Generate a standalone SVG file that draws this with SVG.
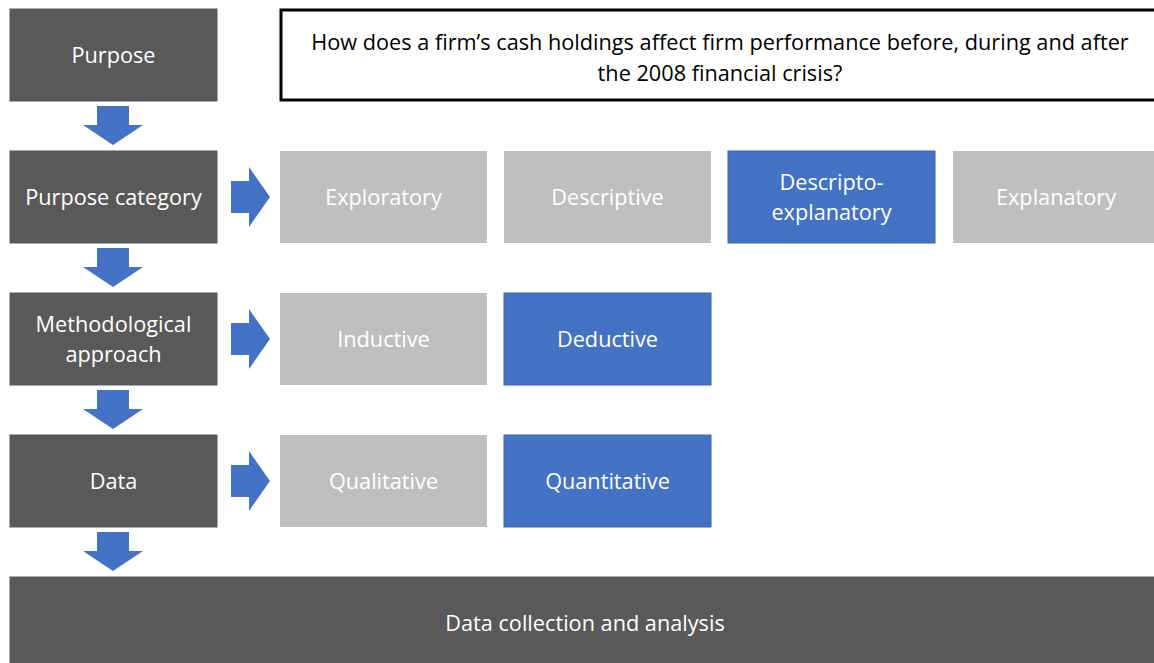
<svg xmlns="http://www.w3.org/2000/svg" xmlns:xlink="http://www.w3.org/1999/xlink" width="1154" height="663" viewBox="0 0 1154 663">
  <style>
    text { font-family: "Open Sans", "Noto Sans", "DejaVu Sans", sans-serif; font-size: 21.7px; text-anchor: middle; }
    .step { fill: #595959; stroke: #4d5a6c; stroke-width: 1; }
    .off { fill: #bfbfbf; }
    .on { fill: #4472c4; stroke: #3a64ad; stroke-width: 1; }
    .light { fill: #ffffff; }
    .q { fill: #ffffff; stroke: #000000; stroke-width: 3; }
    .qt { fill: #000000; }
    .arrow { fill: #4472c4; }
  </style>
  <defs>
    <!-- block arrow pointing down, origin at top centre -->
    <path id="arrowDown" class="arrow" d="M-16,0 H16 V19 H30 L0,39 L-30,19 H-16 Z"/>
    <!-- block arrow pointing right, origin at left middle -->
    <path id="arrowRight" class="arrow" d="M0,-16 H18 V-30 L39,0 L18,30 V16 H0 Z"/>
  </defs>

  <rect width="1154" height="663" fill="#ffffff"/>

  <g id="connectors">
    <use xlink:href="#arrowDown" x="113" y="106"/>
    <use xlink:href="#arrowDown" x="113" y="248"/>
    <use xlink:href="#arrowDown" x="113" y="390"/>
    <use xlink:href="#arrowDown" x="113" y="532"/>
    <use xlink:href="#arrowRight" x="231" y="197"/>
    <use xlink:href="#arrowRight" x="231" y="339"/>
    <use xlink:href="#arrowRight" x="231" y="481"/>
  </g>

  <g id="purpose">
    <rect class="step" x="10" y="9" width="207" height="92"/>
    <text class="light" x="113.5" y="63">Purpose</text>
  </g>
  <g id="question">
    <rect class="q" x="281" y="10" width="885" height="90"/>
    <text class="qt" x="720" y="50">How does a firm’s cash holdings affect firm performance before, during and after</text>
    <text class="qt" x="720" y="81">the 2008 financial crisis?</text>
  </g>

  <g id="purpose-category">
    <rect class="step" x="10" y="151" width="207" height="92"/>
    <text class="light" x="113.5" y="205">Purpose category</text>
  </g>
  <g id="exploratory">
    <rect class="off" x="280" y="151" width="207" height="92"/>
    <text class="light" x="383.5" y="205">Exploratory</text>
  </g>
  <g id="descriptive">
    <rect class="off" x="504" y="151" width="207" height="92"/>
    <text class="light" x="607.5" y="205">Descriptive</text>
  </g>
  <g id="descripto-explanatory">
    <rect class="on" x="728" y="151" width="207" height="92"/>
    <text class="light" x="831.5" y="190">Descripto-</text>
    <text class="light" x="831.5" y="220">explanatory</text>
  </g>
  <g id="explanatory">
    <rect class="off" x="953" y="151" width="207" height="92"/>
    <text class="light" x="1056" y="205">Explanatory</text>
  </g>

  <g id="methodological-approach">
    <rect class="step" x="10" y="293" width="207" height="92"/>
    <text class="light" x="113.5" y="332">Methodological</text>
    <text class="light" x="113.5" y="362">approach</text>
  </g>
  <g id="inductive">
    <rect class="off" x="280" y="293" width="207" height="92"/>
    <text class="light" x="383.5" y="347">Inductive</text>
  </g>
  <g id="deductive">
    <rect class="on" x="504" y="293" width="207" height="92"/>
    <text class="light" x="607.5" y="347">Deductive</text>
  </g>

  <g id="data">
    <rect class="step" x="10" y="435" width="207" height="92"/>
    <text class="light" x="113.5" y="489">Data</text>
  </g>
  <g id="qualitative">
    <rect class="off" x="280" y="435" width="207" height="92"/>
    <text class="light" x="383.5" y="489">Qualitative</text>
  </g>
  <g id="quantitative">
    <rect class="on" x="504" y="435" width="207" height="92"/>
    <text class="light" x="607.5" y="489">Quantitative</text>
  </g>

  <g id="data-collection">
    <rect class="step" x="10" y="577" width="1160" height="100"/>
    <text class="light" x="585" y="631">Data collection and analysis</text>
  </g>
</svg>
